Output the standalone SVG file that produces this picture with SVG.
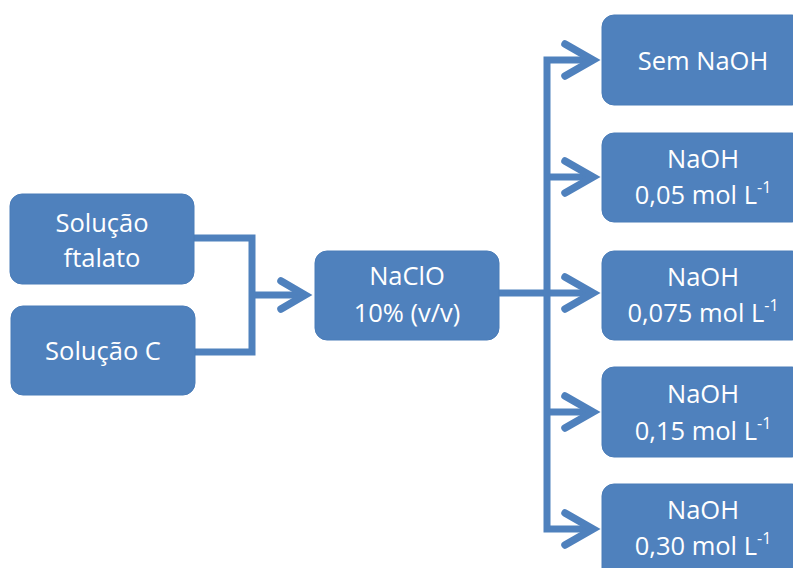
<svg xmlns="http://www.w3.org/2000/svg" width="793" height="568" viewBox="0 0 793 568">
  <style>
    .box { fill: #4F81BD; stroke: #4A7CB8; stroke-width: 1; }
    .lbl { fill: #FFFFFF; font-family: "Open Sans", "Liberation Sans", sans-serif; font-size: 25.5px; text-anchor: middle; }
    .sup { font-size: 16px; }
    .wire { fill: none; stroke: #4F81BD; stroke-width: 7; stroke-linejoin: miter; stroke-linecap: butt; }
    .head { fill: none; stroke: #4F81BD; stroke-width: 7.5; stroke-linejoin: miter; stroke-miterlimit: 10; stroke-linecap: round; }
  </style>
  <rect width="793" height="568" fill="#FFFFFF"/>

  <!-- connectors -->
  <g id="connectors">
    <!-- two inputs merge into NaClO -->
    <path class="wire" d="M194,238 H252 V352 H195"/>
    <path class="wire" d="M252,295 H304"/>
    <path class="head" d="M281,281 L305,295 L281,309"/>
    <!-- NaClO fans out to the five conditions -->
    <path class="wire" d="M499,293 H592"/>
    <path class="wire" d="M592,60 H547 V529 H592"/>
    <path class="wire" d="M547,177 H592"/>
    <path class="wire" d="M547,412 H592"/>
    <path class="head" d="M565,44 L593,60 L565,76"/>
    <path class="head" d="M565,161 L593,177 L565,193"/>
    <path class="head" d="M565,277 L593,293 L565,309"/>
    <path class="head" d="M565,396 L593,412 L565,428"/>
    <path class="head" d="M565,513 L593,529 L565,545"/>
  </g>

  <g id="sol-ftalato">
    <rect class="box" x="10" y="194" width="184" height="90" rx="12"/>
    <text class="lbl" x="102" y="232">Solução</text>
    <text class="lbl" x="102" y="267">ftalato</text>
  </g>

  <g id="sol-c">
    <rect class="box" x="11" y="306" width="184" height="89" rx="12"/>
    <text class="lbl" x="103" y="360">Solução C</text>
  </g>

  <g id="naclo">
    <rect class="box" x="315" y="251" width="184" height="89" rx="12"/>
    <text class="lbl" x="407" y="285">NaClO</text>
    <text class="lbl" x="407" y="322">10% (v/v)</text>
  </g>

  <g id="sem-naoh">
    <rect class="box" x="602" y="15" width="202" height="90" rx="12"/>
    <text class="lbl" x="703" y="70">Sem NaOH</text>
  </g>

  <g id="naoh-005">
    <rect class="box" x="602" y="133" width="202" height="89" rx="12"/>
    <text class="lbl" x="703" y="168">NaOH</text>
    <text class="lbl" x="703" y="204">0,05 mol L<tspan class="sup" dy="-11">-1</tspan></text>
  </g>

  <g id="naoh-0075">
    <rect class="box" x="602" y="251" width="202" height="89" rx="12"/>
    <text class="lbl" x="703" y="286">NaOH</text>
    <text class="lbl" x="703" y="322">0,075 mol L<tspan class="sup" dy="-11">-1</tspan></text>
  </g>

  <g id="naoh-015">
    <rect class="box" x="602" y="367" width="202" height="90" rx="12"/>
    <text class="lbl" x="703" y="403">NaOH</text>
    <text class="lbl" x="703" y="440">0,15 mol L<tspan class="sup" dy="-11">-1</tspan></text>
  </g>

  <g id="naoh-030">
    <rect class="box" x="602" y="484" width="202" height="100" rx="12"/>
    <text class="lbl" x="703" y="519">NaOH</text>
    <text class="lbl" x="703" y="555">0,30 mol L<tspan class="sup" dy="-11">-1</tspan></text>
  </g>
</svg>
